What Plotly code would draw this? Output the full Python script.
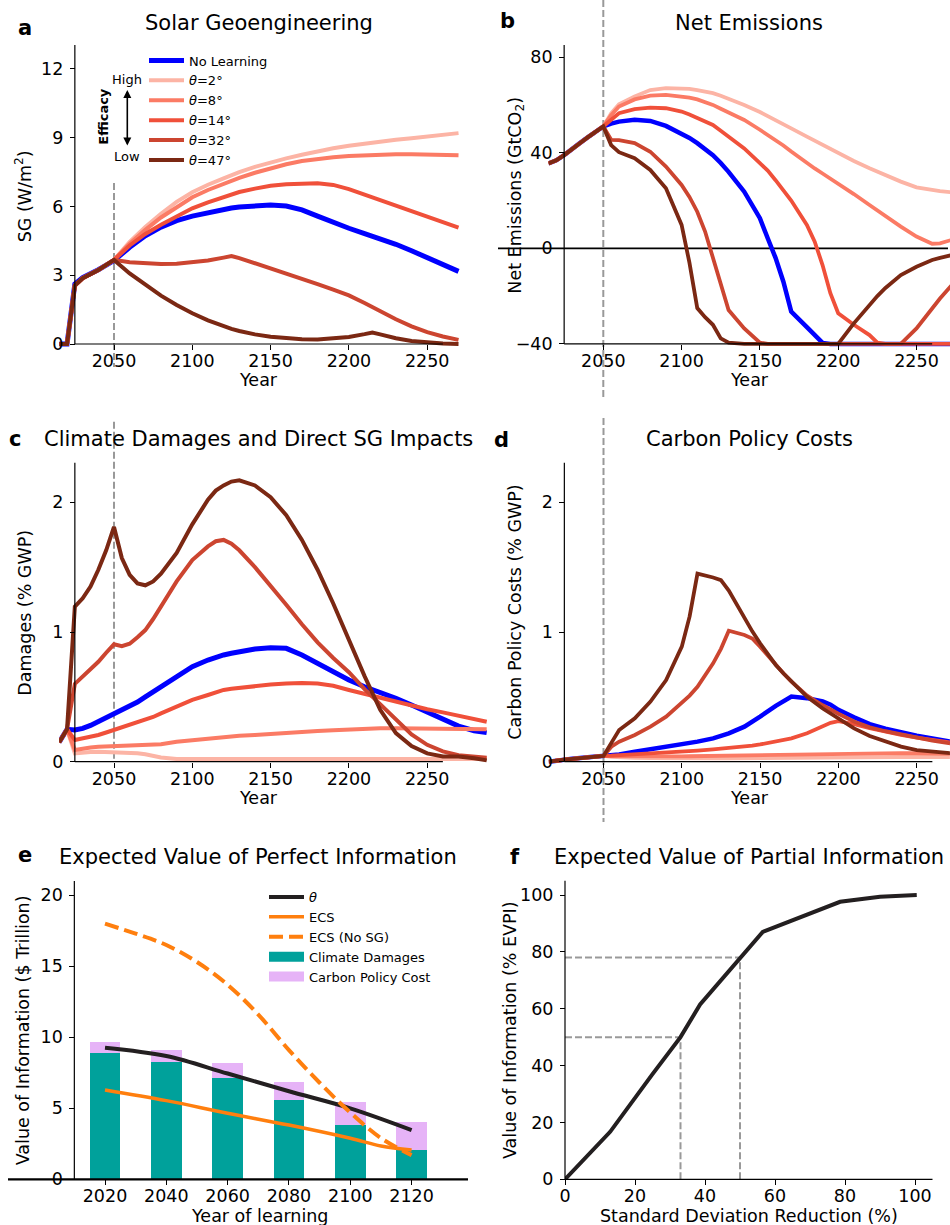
import plotly.graph_objects as go

W, H = 950, 1225
FONT = "DejaVu Sans"

# ---------------------------------------------------------------- data
NAMES = ["No Learning", "<i>θ</i>=2°", "<i>θ</i>=8°", "<i>θ</i>=14°",
         "<i>θ</i>=32°", "<i>θ</i>=47°"]

# panel a : Solar geoengineering (W/m2)
A_YEARS = [2015, 2020, 2025, 2030, 2040, 2050, 2060, 2070, 2080, 2090, 2100,
           2110, 2120, 2125, 2130, 2140, 2150, 2160, 2170, 2180, 2190, 2200,
           2210, 2215, 2220, 2230, 2240, 2250, 2260, 2270]
A_NOLEARN = [0, 0, 2.62, 2.9, 3.24, 3.64, 4.22, 4.72, 5.1, 5.38, 5.58,
             5.74, 5.87, 5.93, 5.98, 6.04, 6.06, 6.02, 5.85, 5.58, 5.3, 5.05,
             4.82, 4.71, 4.6, 4.35, 4.07, 3.78, 3.48, 3.17]
A_T2 = [0, 0, 2.55, 2.87, 3.23, 3.67, 4.45, 5.1, 5.68, 6.2, 6.62,
        6.95, 7.23, 7.37, 7.5, 7.73, 7.93, 8.1, 8.26, 8.41, 8.54, 8.65,
        8.75, 8.8, 8.84, 8.91, 8.98, 9.05, 9.12, 9.2]
A_T8 = [0, 0, 2.55, 2.87, 3.23, 3.67, 4.38, 4.98, 5.52, 5.98, 6.4,
        6.72, 7.0, 7.13, 7.25, 7.47, 7.67, 7.84, 7.98, 8.08, 8.15, 8.2,
        8.24, 8.25, 8.27, 8.28, 8.28, 8.27, 8.25, 8.23]
A_T14 = [0, 0, 2.55, 2.87, 3.23, 3.67, 4.3, 4.8, 5.2, 5.58, 5.92,
         6.18, 6.42, 6.53, 6.63, 6.78, 6.9, 6.97, 7.01, 7.01, 6.94, 6.76,
         6.52, 6.4, 6.27, 6.03, 5.78, 5.54, 5.3, 5.08]
A_T32 = [0, 0, 2.55, 2.87, 3.23, 3.67, 3.57, 3.52, 3.49, 3.5, 3.55,
         3.64, 3.77, 3.84, 3.75, 3.53, 3.31, 3.08, 2.85, 2.61, 2.37, 2.12,
         1.79, 1.6, 1.42, 1.08, 0.77, 0.52, 0.33, 0.18]
A_T47 = [0, 0, 2.55, 2.87, 3.23, 3.67, 3.08, 2.57, 2.11, 1.7, 1.34,
         1.03, 0.77, 0.66, 0.57, 0.42, 0.32, 0.25, 0.21, 0.2, 0.24, 0.31,
         0.43, 0.5, 0.42, 0.25, 0.13, 0.06, 0.02, 0.0]

# panel b : Net emissions (GtCO2)
B_YEARS = [2015, 2020, 2025, 2030, 2035, 2040, 2045, 2050,
           2055, 2060, 2070, 2080, 2090, 2100,
           2105, 2110, 2115, 2120, 2125, 2130,
           2140, 2150, 2155, 2160, 2165, 2170,
           2180, 2185, 2190, 2195, 2200,
           2210, 2220, 2225, 2230,
           2240, 2250, 2260, 2265, 2275]
B_NOLEARN = [35.5, 36.8, 39.0, 41.7, 44.0, 46.4, 48.7, 51.0,
             52.2, 53.0, 53.8, 53.3, 51.2, 48.1,
             46.2, 44.0, 41.6, 39.0, 35.7, 32.0,
             23.7, 12.6, 4.2, -4.0, -14.0, -26.5,
             -33.0, -36.3, -39.6, -40, -40,
             -40, -40, -40, -40,
             -40, -40, -40, -40, -40]
B_T2 = [35.5, 36.8, 39.0, 41.7, 44.0, 46.4, 48.7, 51.0,
        56.5, 60.3, 63.5, 66.2, 67.0, 67.0,
        66.7, 66.2, 65.6, 64.9, 63.8, 62.6,
        60.0, 57.0, 55.4, 53.7, 52.0, 50.2,
        46.7, 45.0, 43.2, 41.5, 39.7,
        36.5, 33.5, 32.0, 30.5,
        27.9, 25.5, 24.3, 23.9, 23.3]
B_T8 = [35.5, 36.8, 39.0, 41.7, 44.0, 46.4, 48.7, 51.0,
        55.7, 59.3, 62.3, 63.9, 64.2, 63.5,
        63.0, 62.3, 61.2, 60.0, 58.4, 56.8,
        53.7, 49.6, 47.5, 45.3, 43.0, 40.5,
        35.6, 33.4, 31.3, 29.2, 27.2,
        22.7, 18.1, 15.8, 13.6,
        9.1, 4.9, 1.9, 2.1, 4.0]
B_T14 = [35.5, 36.8, 39.0, 41.7, 44.0, 46.4, 48.7, 51.0,
         53.8, 56.5, 58.2, 58.9, 58.6, 57.2,
         56.0, 54.5, 53.2, 51.6, 49.2, 46.7,
         41.8, 35.6, 32.5, 28.5, 24.5, 20.0,
         9.8, 2.8, -7.0, -18.8, -27.2,
         -32.0, -36.3, -39.5, -40,
         -40, -40, -40, -40, -40]
B_T32 = [35.5, 36.8, 39.0, 41.7, 44.0, 46.4, 48.7, 51.0,
         45.4, 45.3, 44.0, 40.4, 34.2, 26.5,
         21.5, 15.3, 7.0, -4.2, -15.3, -25.8,
         -33.5, -39.5, -40, -40, -40, -40,
         -40, -40, -40, -40, -40,
         -40, -40, -40, -40,
         -40, -33.5, -25.1, -21.0, -13.5]
B_T47 = [35.5, 36.8, 39.0, 41.7, 44.0, 46.4, 48.7, 51.0,
         43.2, 40.2, 37.7, 32.8, 25.1, 9.8,
         -6.0, -25.0, -28.8, -32.0, -37.7, -39.5,
         -40, -40, -40, -40, -40, -40,
         -40, -40, -40, -40, -40,
         -31.4, -23.7, -20.0, -16.7,
         -11.2, -7.7, -4.9, -4.0, -2.5]

# panel c : Climate damages and direct SG impacts (% GWP)
C_YEARS = [2015, 2020, 2025, 2030, 2035, 2040, 2045, 2050, 2055, 2060, 2065,
           2070, 2075, 2080, 2090, 2100, 2110, 2115, 2120, 2125, 2130,
           2140, 2150, 2160, 2170, 2180, 2190, 2200, 2210, 2220, 2230, 2240,
           2250, 2260, 2270, 2280, 2288]
C_NOLEARN = [0.15, 0.25, 0.244, 0.257, 0.28, 0.31, 0.335, 0.36, 0.39, 0.424,
             0.46, 0.50, 0.54, 0.578, 0.655, 0.733, 0.784, 0.805, 0.823, 0.836,
             0.848, 0.869, 0.879, 0.874, 0.823, 0.758, 0.694, 0.63, 0.578,
             0.535, 0.488, 0.437, 0.38, 0.326, 0.275, 0.239, 0.224]
C_T2 = [0.15, 0.25, 0.064, 0.072, 0.075, 0.077, 0.076, 0.075, 0.073, 0.07,
        0.065, 0.057, 0.045, 0.033, 0.02, 0.02, 0.02, 0.02, 0.02, 0.02, 0.02,
        0.02, 0.02, 0.02, 0.02, 0.02, 0.02, 0.02, 0.02, 0.02, 0.02, 0.02,
        0.02, 0.02, 0.02, 0.02, 0.02]
C_T8 = [0.15, 0.25, 0.09, 0.103, 0.11, 0.116, 0.118, 0.12, 0.122, 0.123,
        0.125, 0.128, 0.131, 0.134, 0.154, 0.167, 0.18, 0.187, 0.193, 0.197,
        0.2, 0.206, 0.215, 0.224, 0.23, 0.236, 0.243, 0.25, 0.254, 0.257,
        0.257, 0.257, 0.257, 0.257, 0.255, 0.252, 0.25]
C_T14 = [0.15, 0.25, 0.167, 0.18, 0.19, 0.206, 0.225, 0.244, 0.263, 0.283,
         0.30, 0.32, 0.345, 0.373, 0.424, 0.476, 0.514, 0.533, 0.553, 0.562,
         0.57, 0.584, 0.595, 0.603, 0.607, 0.603, 0.585, 0.553, 0.522, 0.49,
         0.46, 0.432, 0.404, 0.38, 0.352, 0.326, 0.308]
C_T32 = [0.15, 0.25, 0.6, 0.656, 0.71, 0.77, 0.84, 0.905, 0.89, 0.91, 0.96,
         1.015, 1.1, 1.195, 1.39, 1.555, 1.66, 1.70, 1.71, 1.68, 1.63,
         1.50, 1.36, 1.21, 1.06, 0.92, 0.80, 0.69, 0.56, 0.44, 0.32, 0.21,
         0.13, 0.08, 0.05, 0.035, 0.03]
C_T47 = [0.15, 0.25, 1.195, 1.26, 1.35, 1.48, 1.63, 1.81, 1.57, 1.44, 1.375,
         1.36, 1.39, 1.45, 1.61, 1.83, 2.02, 2.09, 2.13, 2.16, 2.17,
         2.13, 2.04, 1.9, 1.71, 1.48, 1.22, 0.94, 0.66, 0.4, 0.22, 0.12,
         0.064, 0.04, 0.04, 0.026, 0.01]

# panel d : Carbon policy costs (% GWP)
D_YEARS = [2015, 2020, 2025, 2030, 2040, 2050,
           2055, 2060, 2070, 2080, 2090, 2100,
           2105, 2110, 2120, 2125, 2130,
           2140, 2145, 2150, 2160, 2165, 2170,
           2180, 2190, 2195, 2200,
           2210, 2220, 2230, 2240, 2250, 2260, 2275]
D_NOLEARN = [0.0, 0.01, 0.015, 0.022, 0.035, 0.045,
             0.052, 0.056, 0.077, 0.095, 0.116, 0.137,
             0.146, 0.155, 0.18, 0.197, 0.219,
             0.27, 0.305, 0.348, 0.43, 0.47, 0.503,
             0.49, 0.464, 0.44, 0.40,
             0.343, 0.29, 0.255, 0.224, 0.2, 0.18, 0.147]
D_T2 = [0.0, 0.01, 0.015, 0.022, 0.035, 0.045,
        0.038, 0.034, 0.03, 0.027, 0.025, 0.024,
        0.024, 0.024, 0.024, 0.025, 0.025,
        0.026, 0.026, 0.027, 0.028, 0.028, 0.029,
        0.03, 0.031, 0.032, 0.033,
        0.035, 0.037, 0.039, 0.04, 0.04, 0.038, 0.035]
D_T8 = [0.0, 0.01, 0.015, 0.022, 0.035, 0.045,
        0.043, 0.042, 0.041, 0.04, 0.04, 0.041,
        0.042, 0.043, 0.045, 0.046, 0.047,
        0.05, 0.051, 0.052, 0.055, 0.056, 0.058,
        0.06, 0.062, 0.063, 0.064,
        0.065, 0.066, 0.066, 0.066, 0.065, 0.063, 0.06]
D_T14 = [0.0, 0.01, 0.015, 0.022, 0.035, 0.045,
         0.047, 0.05, 0.059, 0.064, 0.07, 0.077,
         0.081, 0.086, 0.095, 0.1, 0.105,
         0.116, 0.124, 0.133, 0.155, 0.166, 0.18,
         0.219, 0.276, 0.30, 0.312,
         0.29, 0.258, 0.23, 0.206, 0.186, 0.168, 0.142]
D_T32 = [0.0, 0.01, 0.015, 0.022, 0.035, 0.045,
         0.116, 0.154, 0.206, 0.27, 0.347, 0.45,
         0.51, 0.578, 0.758, 0.87, 1.01,
         0.977, 0.95, 0.887, 0.746, 0.68, 0.617,
         0.51, 0.435, 0.40, 0.37,
         0.31, 0.265, 0.235, 0.21, 0.185, 0.162, 0.135]
D_T47 = [0.0, 0.01, 0.015, 0.022, 0.035, 0.045,
         0.145, 0.244, 0.334, 0.463, 0.63, 0.887,
         1.12, 1.45, 1.42, 1.40, 1.32,
         1.105, 1.005, 0.913, 0.746, 0.68, 0.617,
         0.50, 0.41, 0.37, 0.334,
         0.257, 0.198, 0.154, 0.116, 0.09, 0.077, 0.062]

# panel e : Expected value of perfect information ($ trillion)
E_YEARS = [2020, 2040, 2060, 2080, 2100, 2120]
E_DAMAGES = [8.9, 8.28, 7.15, 5.58, 3.82, 2.06]
E_POLICY = [0.79, 0.82, 1.04, 1.27, 1.62, 1.97]
E_THETA = [9.27, 8.68, 7.45, 6.2, 5.0, 3.47]
E_ECS_YEARS = [2020, 2040, 2060, 2080, 2100, 2110, 2120]
E_ECS = [6.29, 5.54, 4.65, 3.82, 2.89, 2.35, 2.06]
E_NOSG_YEARS = [2020, 2030, 2040, 2050, 2060, 2070, 2080, 2090, 2100, 2110, 2120]
E_NOSG = [18.0, 17.3, 16.5, 15.3, 13.7, 11.6, 9.1, 6.8, 4.7, 2.9, 1.7]
E_TICKS = [2020, 2040, 2060, 2080, 2100, 2120]

# panel f : Expected value of partial information (% EVPI)
F_SDR = [0, 12.9, 25, 33, 38.6, 50, 56.5, 78.6, 90, 100.5]
F_VOI = [0, 16.7, 37, 50, 61.5, 78, 87, 97.6, 99.4, 100]
F_GUIDE_X = [33, 50]
F_GUIDE_Y = [50, 78]

# ---------------------------------------------------------------- style
COLORS = ["#0000ff", "#fcb4a5", "#fb7b65", "#f0503a", "#cc4530", "#7b2813"]
TEAL, LAVENDER, ORANGE, INK, GREY = "#00a19b", "#e6b3f7", "#ff7f0e", "#231f20", "#999999"


def PX(p):
    return p / W


def PY(p):
    return 1 - p / H


# pixel scales: (ref value, ref pixel, pixels per unit)
GEOM = {
    "a": dict(xs=(2050, 114.0, 1.566), ys=(0, 344.0, 22.92), xr=(2015, 2271), yr=(-0.25, 13.05)),
    "b": dict(xs=(2050, 603.3, 1.566), ys=(0, 248.3, 2.39), xr=(2015, 2271.4), yr=(-41.8, 85.1)),
    "c": dict(xs=(2050, 114.0, 1.566), ys=(0, 761.7, 129.7), xr=(2015, 2290), yr=(-0.03, 2.305)),
    "d": dict(xs=(2050, 603.5, 1.566), ys=(0, 761.7, 129.7), xr=(2015, 2271.2), yr=(-0.03, 2.305)),
    "e": dict(xs=(2020, 105.0, 3.066), ys=(0, 1179.3, 14.2), xr=(2010, 2138.4), yr=(0, 21.0)),
    "f": dict(xs=(0, 565.0, 3.5), ys=(0, 1179.3, 2.843), xr=(0, 105), yr=(0, 105)),
}


def xp(panel, v):
    v0, p0, k = GEOM[panel]["xs"]
    return p0 + (v - v0) * k


def yp(panel, v):
    v0, p0, k = GEOM[panel]["ys"]
    return p0 - (v - v0) * k


fig = go.Figure()
AX = {"a": ("x", "y"), "b": ("x2", "y2"), "c": ("x3", "y3"),
      "d": ("x4", "y4"), "e": ("x5", "y5"), "f": ("x6", "y6")}


def add_family(panel, years, series, widths, legend=False):
    xa, ya = AX[panel]
    for name, col, w, ys in zip(NAMES, COLORS, widths, series):
        fig.add_trace(go.Scatter(
            x=years, y=ys, mode="lines", name=name,
            line=dict(color=col, width=w),
            showlegend=legend, legend="legend",
            xaxis=xa, yaxis=ya, hoverinfo="skip"))


add_family("a", A_YEARS, [A_NOLEARN, A_T2, A_T8, A_T14, A_T32, A_T47],
           [5, 4, 4, 4, 4, 4], legend=True)
add_family("b", B_YEARS, [B_NOLEARN, B_T2, B_T8, B_T14, B_T32, B_T47],
           [4.5, 3.8, 3.8, 3.8, 3.8, 3.8])
add_family("c", C_YEARS, [C_NOLEARN, C_T2, C_T8, C_T14, C_T32, C_T47],
           [5, 4, 4, 4, 4, 4])
add_family("d", D_YEARS, [D_NOLEARN, D_T2, D_T8, D_T14, D_T32, D_T47],
           [4.5, 3.8, 3.8, 3.8, 3.8, 3.8])

# panel e
fig.add_trace(go.Bar(x=E_YEARS, y=E_DAMAGES, width=10, marker=dict(color=TEAL, line=dict(width=0)),
                     showlegend=False, xaxis="x5", yaxis="y5", hoverinfo="skip"))
fig.add_trace(go.Bar(x=E_YEARS, y=E_POLICY, width=10, marker=dict(color=LAVENDER, line=dict(width=0)),
                     showlegend=False, xaxis="x5", yaxis="y5", hoverinfo="skip"))
fig.add_trace(go.Scatter(x=E_YEARS, y=E_THETA, mode="lines", name="<i>θ</i>",
                         line=dict(color=INK, width=4, shape="spline"),
                         legend="legend2", xaxis="x5", yaxis="y5", hoverinfo="skip"))
fig.add_trace(go.Scatter(x=E_ECS_YEARS, y=E_ECS, mode="lines", name="ECS",
                         line=dict(color=ORANGE, width=3.5, shape="spline"),
                         legend="legend2", xaxis="x5", yaxis="y5", hoverinfo="skip"))
fig.add_trace(go.Scatter(x=E_NOSG_YEARS, y=E_NOSG, mode="lines", name="ECS (No SG)",
                         line=dict(color=ORANGE, width=4, dash="14px,6px", shape="spline"),
                         legend="legend2", xaxis="x5", yaxis="y5", hoverinfo="skip"))
# legend swatches for the stacked bars
fig.add_trace(go.Scatter(x=[None], y=[None], mode="lines", name="Climate Damages",
                         line=dict(color=TEAL, width=10), legend="legend2",
                         xaxis="x5", yaxis="y5", hoverinfo="skip"))
fig.add_trace(go.Scatter(x=[None], y=[None], mode="lines", name="Carbon Policy Cost",
                         line=dict(color=LAVENDER, width=10), legend="legend2",
                         xaxis="x5", yaxis="y5", hoverinfo="skip"))

# panel f
fig.add_trace(go.Scatter(x=F_SDR, y=F_VOI, mode="lines", line=dict(color=INK, width=4),
                         showlegend=False, xaxis="x6", yaxis="y6", hoverinfo="skip"))

# ---------------------------------------------------------------- axes
TICKFONT = dict(family=FONT, size=17.5, color="black")
TICKS = {
    "a": ([2050, 2100, 2150, 2200, 2250], [0, 3, 6, 9, 12], 2025, 0),
    "b": ([2050, 2100, 2150, 2200, 2250], [-40, 0, 40, 80], 2025, -40),
    "c": ([2050, 2100, 2150, 2200, 2250], [0, 1, 2], 2025, 0),
    "d": ([2050, 2100, 2150, 2200, 2250], [0, 1, 2], 2025, 0),
    "e": (E_TICKS, [0, 5, 10, 15, 20], 2010, 0),
    "f": ([0, 20, 40, 60, 80, 100], [0, 20, 40, 60, 80, 100], 0, 0),
}

layout_axes = {}
for i, p in enumerate("abcdef"):
    g = GEOM[p]
    xt, yt, xsp, ysp = TICKS[p]
    xd = [max(0, xp(p, g["xr"][0]) / W), min(1, xp(p, g["xr"][1]) / W)]
    yd = [PY(yp(p, g["yr"][0])), PY(yp(p, g["yr"][1]))]
    common = dict(showgrid=False, zeroline=False, showline=False, ticks="outside",
                  ticklen=5, tickwidth=1.1, tickcolor="black", tickfont=TICKFONT,
                  fixedrange=True, anchor="free", automargin=False)
    sfx = "" if i == 0 else str(i + 1)
    layout_axes["xaxis" + sfx] = dict(domain=xd, range=list(g["xr"]), tickvals=xt,
                                      position=PY(yp(p, ysp)), ticklabelstandoff=-4, **common)
    layout_axes["yaxis" + sfx] = dict(domain=yd, range=list(g["yr"]), tickvals=yt,
                                      position=PX(xp(p, xsp)), ticklabelstandoff=3, **common)

# ---------------------------------------------------------------- shapes
shapes = []


def pline(x0, y0, x1, y1, color="black", width=1.2, dash=None, layer="above"):
    shapes.append(dict(type="line", xref="paper", yref="paper",
                       x0=PX(x0), y0=PY(y0), x1=PX(x1), y1=PY(y1), layer=layer,
                       line=dict(color=color, width=width, dash=dash)))


SPINES = {"a": (2025, 0, 2260, 13.05), "b": (2025, -40, 2260, 85.1),
          "c": (2025, 0, 2260, 2.305), "d": (2025, 0, 2260, 2.305),
          "e": (2010, 0, None, 21.0), "f": (0, 0, 105, 105)}
for p, (xs0, ys0, xs1, ys1) in SPINES.items():
    pline(xp(p, xs0), yp(p, ys0), xp(p, xs0), yp(p, ys1))
    if xs1 is not None:
        pline(xp(p, xs0), yp(p, ys0), xp(p, xs1), yp(p, ys0))

# zero line in b and baseline in e
pline(498, yp("b", 0), 948, yp("b", 0), width=1.7, layer="below")
pline(8, yp("e", 0), 468, yp("e", 0), width=2.2)

# learning-year dashed markers (pixel extents)
VLINES = {"a": (183, 367), "b": (0, 400), "c": (421.7, 761.7), "d": (418, 822)}
for p, (t, b) in VLINES.items():
    pline(xp(p, 2050), t, xp(p, 2050), b, color=GREY, width=2, dash="7px,3px", layer="below")

# guides in f
for gx, gy in zip(F_GUIDE_X, F_GUIDE_Y):
    shapes.append(dict(type="line", xref="x6", yref="y6", x0=0, y0=gy, x1=gx, y1=gy,
                       line=dict(color=GREY, width=2, dash="7px,3px"), layer="below"))
    shapes.append(dict(type="line", xref="x6", yref="y6", x0=gx, y0=0, x1=gx, y1=gy,
                       line=dict(color=GREY, width=2, dash="7px,3px"), layer="below"))

# ---------------------------------------------------------------- text
anns = []


def ann(text, x, y, size, bold=False, angle=0, xanchor="center", yanchor="middle"):
    anns.append(dict(text=f"<b>{text}</b>" if bold else text, x=PX(x), y=PY(y),
                     xref="paper", yref="paper", showarrow=False, textangle=angle,
                     font=dict(family=FONT, size=size, color="black"),
                     xanchor=xanchor, yanchor=yanchor))


TITLE = 21
ann("Solar Geoengineering", 258.8, 22.6, TITLE)
ann("Net Emissions", 749, 22.6, TITLE)
ann("Climate Damages and Direct SG Impacts", 258.3, 439.2, TITLE)
ann("Carbon Policy Costs", 749, 439.2, TITLE)
ann("Expected Value of Perfect Information", 258.3, 856.7, TITLE)
ann("Expected Value of Partial Information", 748.8, 856.7, TITLE)

ann("a", 25, 27.6, TITLE, bold=True)
ann("b", 507, 21, TITLE, bold=True)
ann("c", 15, 438.7, TITLE, bold=True)
ann("d", 501.7, 440, TITLE, bold=True)
ann("e", 25, 855, TITLE, bold=True)
ann("f", 515, 856.6, TITLE, bold=True)

LAB = 17.5
ann("Year", 258.8, 380.3, LAB)
ann("Year", 749, 380.3, LAB)
ann("Year", 258.3, 798.3, LAB)
ann("Year", 749, 798.3, LAB)
ann("Year of learning", 259, 1228, LAB, yanchor="bottom")
ann("Standard Deviation Reduction (%)", 748.5, 1228, LAB, yanchor="bottom")
ann("SG (W/m<sup>2</sup>)", 23.3, 196, LAB, angle=-90)
ann("Net Emissions (GtCO<sub>2</sub>)", 515.7, 195, LAB, angle=-90)
ann("Damages (% GWP)", 24.2, 612.5, LAB, angle=-90)
ann("Carbon Policy Costs (% GWP)", 514.2, 612.5, LAB, angle=-90)
ann("Value of Information ($ Trillion)", 23.3, 1030, LAB, angle=-90)
ann("Value of Information (% EVPI)", 510, 1030, LAB, angle=-90)

ann("High", 127, 79, 13)
ann("Low", 127, 157, 13)
ann("Efficacy", 104, 116.7, 13, bold=True, angle=-90)
anns.append(dict(x=PX(127.3), y=PY(90), ax=0, ay=57, xref="paper", yref="paper",
                 axref="pixel", ayref="pixel", text="", showarrow=True, arrowhead=2,
                 startarrowhead=2, arrowside="end+start", arrowwidth=1.6, arrowsize=1,
                 startarrowsize=1, arrowcolor="black"))

LEGFONT = dict(family=FONT, size=13, color="black")
fig.update_layout(
    width=W, height=H, autosize=False,
    margin=dict(l=0, r=0, t=0, b=0, pad=0, autoexpand=False),
    paper_bgcolor="white", plot_bgcolor="rgba(0,0,0,0)",
    barmode="stack", showlegend=True,
    font=dict(family=FONT, color="black"),
    legend=dict(x=PX(144), y=PY(45.5), xanchor="left", yanchor="top", font=LEGFONT,
                bgcolor="rgba(0,0,0,0)", borderwidth=0, tracegroupgap=0,
                traceorder="normal", itemwidth=35),
    legend2=dict(x=PX(264), y=PY(882), xanchor="left", yanchor="top", font=LEGFONT,
                 bgcolor="rgba(0,0,0,0)", borderwidth=0, tracegroupgap=0,
                 traceorder="normal", itemwidth=35),
    shapes=shapes, annotations=anns,
    **layout_axes,
)

fig.write_html("out.html", config={"displayModeBar": False},
               post_script="document.body.style.margin='0';document.body.style.overflow='hidden';")
